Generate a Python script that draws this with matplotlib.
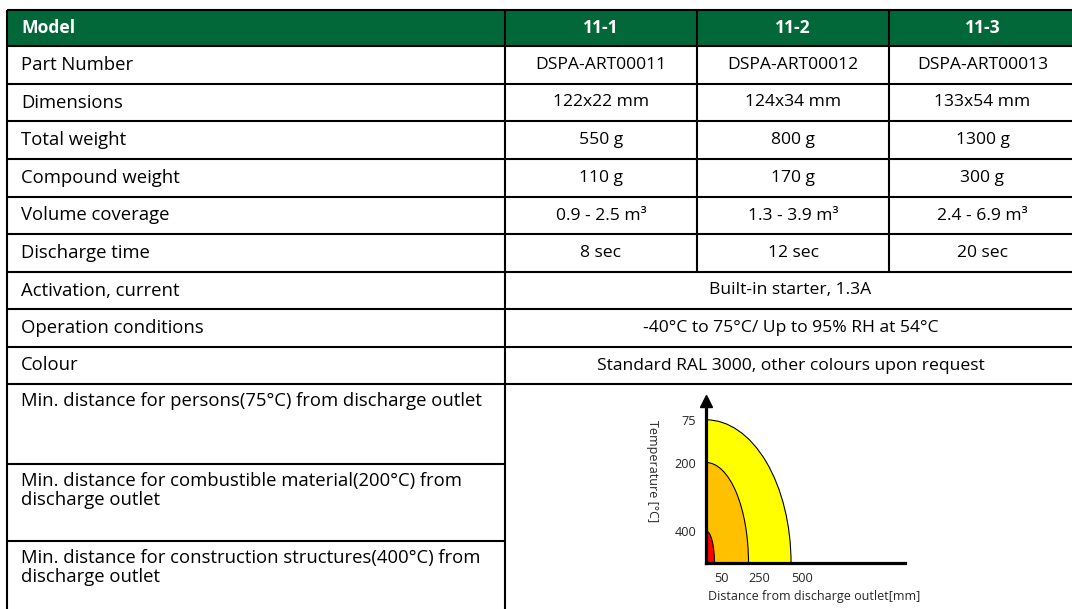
import matplotlib.pyplot as plt
from matplotlib.patches import Rectangle, Ellipse

plt.rcParams['font.family'] = ['Open Sans', 'DejaVu Sans']

# table content
models = ["11-1", "11-2", "11-3"]
spec_labels = ["Part Number", "Dimensions", "Total weight", "Compound weight",
               "Volume coverage", "Discharge time"]
part_numbers = ["DSPA-ART00011", "DSPA-ART00012", "DSPA-ART00013"]
dimensions = ["122x22 mm", "124x34 mm", "133x54 mm"]
total_weight = ["550 g", "800 g", "1300 g"]
compound_weight = ["110 g", "170 g", "300 g"]
volume_coverage = ["0.9 - 2.5 m³", "1.3 - 3.9 m³", "2.4 - 6.9 m³"]
discharge_time = ["8 sec", "12 sec", "20 sec"]

shared_labels = ["Activation, current", "Operation conditions", "Colour"]
shared_values = ["Built-in starter, 1.3A",
                 "-40°C to 75°C/ Up to 95% RH at 54°C",
                 "Standard RAL 3000, other colours upon request"]

distance_labels = ["Min. distance for persons(75°C) from discharge outlet",
                   "Min. distance for combustible material(200°C) from\ndischarge outlet",
                   "Min. distance for construction structures(400°C) from\ndischarge outlet"]

# safety distance diagram
temperatures = [75, 200, 400]   # °C
distances = [500, 250, 50]      # mm
zone_colors = ["#FFFF00", "#FFC000", "#FF0000"]

# layout (pixels); the table runs past the right and bottom edges of the image
W, H = 1072, 609
GREEN = "#02683A"
col_x = [7, 505, 697, 889, 1076]
row_y = [10, 46, 84, 121, 159, 197, 234, 272, 309, 347, 384, 464, 541, 640]
PAD = 14
LW = 1.5
FS_LABEL = 13.3
FS = 12.6

fig = plt.figure(figsize=(W / 100, H / 100), dpi=100)
ax = fig.add_axes([0, 0, 1, 1])
ax.set_xlim(0, W)
ax.set_ylim(H, 0)
ax.axis('off')

# header
ax.add_patch(Rectangle((col_x[0], row_y[0]), col_x[-1] - col_x[0], row_y[1] - row_y[0],
                       facecolor=GREEN, edgecolor='none', zorder=0))

# grid lines
ax.hlines(row_y[:11], col_x[0], col_x[-1], color='black', lw=LW)
ax.hlines(row_y[11:13], col_x[0], col_x[1], color='black', lw=LW)
ax.vlines([col_x[0], col_x[1]], row_y[0], row_y[-1], color='black', lw=LW)
ax.vlines(col_x[2:4], row_y[0], row_y[7], color='black', lw=LW)


def mid(a, b):
    return (a + b) / 2


col_mid = [mid(col_x[i], col_x[i + 1]) for i in range(1, 4)]

# header text
ax.text(col_x[0] + PAD, mid(row_y[0], row_y[1]), "Model", color='white',
        fontweight='bold', fontsize=FS, va='center', ha='left')
for x, m in zip(col_mid, models):
    ax.text(x, mid(row_y[0], row_y[1]), m, color='white', fontweight='bold',
            fontsize=FS, va='center', ha='center')

# per-model rows
spec_values = [part_numbers, dimensions, total_weight, compound_weight,
               volume_coverage, discharge_time]
for i, (label, vals) in enumerate(zip(spec_labels, spec_values), start=1):
    yc = mid(row_y[i], row_y[i + 1])
    ax.text(col_x[0] + PAD, yc, label, fontsize=FS_LABEL, va='center', ha='left')
    for x, v in zip(col_mid, vals):
        ax.text(x, yc, v, fontsize=FS, va='center', ha='center')

# shared rows
for i, (label, val) in enumerate(zip(shared_labels, shared_values), start=7):
    yc = mid(row_y[i], row_y[i + 1])
    ax.text(col_x[0] + PAD, yc, label, fontsize=FS_LABEL, va='center', ha='left')
    ax.text(mid(col_x[1], col_x[-1]), yc, val, fontsize=FS, va='center', ha='center')

# distance rows
for i, label in enumerate(distance_labels, start=10):
    ax.text(col_x[0] + PAD, row_y[i] + 8, label, fontsize=FS_LABEL, va='top', ha='left',
            linespacing=1.05)

# diagram
X_MAX = 1170
T_BASE, T_TOP = 494, 20
cax = fig.add_axes([706 / W, (H - 563) / H, (905 - 706) / W, (563 - 401) / H])
cax.set_xlim(0, X_MAX)
cax.set_ylim(T_BASE, T_TOP)
cax.patch.set_alpha(0)
for t, d, c in zip(temperatures, distances, zone_colors):
    cax.add_patch(Ellipse((0, T_BASE), 2 * d, 2 * (T_BASE - t), facecolor=c,
                          edgecolor='black', lw=0.8))
for s in ['top', 'right']:
    cax.spines[s].set_visible(False)
for s in ['left', 'bottom']:
    cax.spines[s].set_linewidth(2.3)
cax.plot([0], [1], marker='^', color='black', markersize=8,
         transform=cax.get_xaxis_transform(), clip_on=False)
cax.set_xticks(distances)
cax.set_xticklabels([str(d) for d in distances], ha='left')
cax.set_yticks(temperatures)
cax.set_yticklabels([str(t) for t in temperatures])
cax.tick_params(length=0, labelsize=9.2, colors='#262626')
cax.tick_params(axis='x', pad=6.5)
cax.tick_params(axis='y', pad=7)
cax.text(0.01, -0.204, "Distance from discharge outlet[mm]", transform=cax.transAxes,
         fontsize=9, color='#262626', ha='left', va='center')
cax.text(-0.269, 0.565, "Temperature [°C]", transform=cax.transAxes, rotation=-90,
         fontsize=9, color='#262626', ha='center', va='center')

fig.savefig('out.png', dpi=100)
